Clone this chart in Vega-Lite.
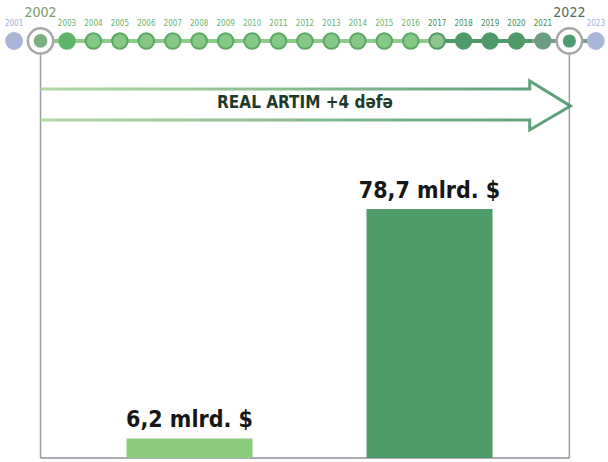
{
  "$schema": "https://vega.github.io/schema/vega-lite/v6.json",
  "width": 608,
  "height": 462,
  "autosize": {"type": "fit", "contains": "padding"},
  "padding": 0,
  "background": "#ffffff",
  "config": {"view": {"stroke": null}},
  "datasets": {
    "years": [
      {"year": 2001, "label": "2001", "group": "edge"},
      {"year": 2002, "label": "2002", "group": "keyA"},
      {"year": 2003, "label": "2003", "group": "start"},
      {"year": 2004, "label": "2004", "group": "mid"},
      {"year": 2005, "label": "2005", "group": "mid"},
      {"year": 2006, "label": "2006", "group": "mid"},
      {"year": 2007, "label": "2007", "group": "mid"},
      {"year": 2008, "label": "2008", "group": "mid"},
      {"year": 2009, "label": "2009", "group": "mid"},
      {"year": 2010, "label": "2010", "group": "mid"},
      {"year": 2011, "label": "2011", "group": "mid"},
      {"year": 2012, "label": "2012", "group": "mid"},
      {"year": 2013, "label": "2013", "group": "mid"},
      {"year": 2014, "label": "2014", "group": "mid"},
      {"year": 2015, "label": "2015", "group": "mid"},
      {"year": 2016, "label": "2016", "group": "mid"},
      {"year": 2017, "label": "2017", "group": "turn"},
      {"year": 2018, "label": "2018", "group": "recent"},
      {"year": 2019, "label": "2019", "group": "recent"},
      {"year": 2020, "label": "2020", "group": "recent"},
      {"year": 2021, "label": "2021", "group": "fade"},
      {"year": 2022, "label": "2022", "group": "keyB"},
      {"year": 2023, "label": "2023", "group": "edge"}
    ],
    "segments": [
      {"from": 2002, "to": 2017, "kind": "early"},
      {"from": 2017, "to": 2020.6, "kind": "late"},
      {"from": 2020.6, "to": 2023.2, "kind": "tail"}
    ],
    "arrow": [
      {"order": 1, "year": 2002.0, "level": 116.62},
      {"order": 2, "year": 2020.5, "level": 116.62},
      {"order": 3, "year": 2020.5, "level": 119.15},
      {"order": 4, "year": 2022.04, "level": 111.25},
      {"order": 5, "year": 2020.5, "level": 103.67},
      {"order": 6, "year": 2020.5, "level": 106.83},
      {"order": 7, "year": 2002.0, "level": 106.83}
    ],
    "bars": [
      {"period": "2002", "value": 6.2, "label": "6,2 mlrd. $"},
      {"period": "2022", "value": 78.7, "label": "78,7 mlrd. $"}
    ]
  },
  "resolve": {"scale": {"x": "independent", "color": "independent", "fill": "independent", "stroke": "independent", "size": "independent"}},
  "layer": [
    {
      "resolve": {"scale": {"color": "independent", "fill": "independent", "stroke": "independent", "size": "independent"}},
      "layer": [
        {
          "data": {"name": "years"},
          "transform": [{"filter": "datum.group === 'keyA' || datum.group === 'keyB'"}],
          "mark": {"type": "rule", "color": "#9c9cab", "strokeWidth": 1.5},
          "encoding": {
            "x": {"field": "year", "type": "quantitative", "scale": {"domain": [2000.467, 2023.196], "nice": false, "zero": false}, "axis": null},
            "y": {"datum": 128, "type": "quantitative", "scale": {"domain": [-1.264, 144.75], "nice": false, "zero": false}, "axis": null},
            "y2": {"datum": 0}
          }
        },
        {
          "data": {"values": [{"from": 2002, "to": 2022}]},
          "mark": {"type": "rule", "color": "#8f8f9c", "strokeWidth": 1.5},
          "encoding": {
            "x": {"field": "from", "type": "quantitative", "scale": {"domain": [2000.467, 2023.196], "nice": false, "zero": false}, "axis": null},
            "x2": {"field": "to"},
            "y": {"datum": 0, "type": "quantitative", "scale": {"domain": [-1.264, 144.75], "nice": false, "zero": false}, "axis": null}
          }
        },
        {
          "data": {"name": "segments"},
          "mark": {"type": "rule"},
          "encoding": {
            "x": {"field": "from", "type": "quantitative", "scale": {"domain": [2000.467, 2023.196], "nice": false, "zero": false}, "axis": null},
            "x2": {"field": "to"},
            "y": {"datum": 131.8, "type": "quantitative", "scale": {"domain": [-1.264, 144.75], "nice": false, "zero": false}, "axis": null},
            "color": {"field": "kind", "type": "nominal", "scale": {"domain": ["early", "late", "tail"], "range": ["#8ccb8a", "#4e9a68", "#7a9a8c"]}, "legend": null},
            "size": {"field": "kind", "type": "nominal", "scale": {"domain": ["early", "late", "tail"], "range": [4, 4, 7]}, "legend": null}
          }
        },
        {
          "data": {"name": "years"},
          "transform": [{"filter": "datum.group === 'keyA' || datum.group === 'keyB'"}],
          "mark": {"type": "circle", "fill": "#ffffff", "stroke": "#a8a8a8", "strokeWidth": 2.5, "opacity": 1},
          "encoding": {
            "x": {"field": "year", "type": "quantitative", "scale": {"domain": [2000.467, 2023.196], "nice": false, "zero": false}, "axis": null},
            "y": {"datum": 131.8, "type": "quantitative", "scale": {"domain": [-1.264, 144.75], "nice": false, "zero": false}, "axis": null},
            "size": {"value": 640}
          }
        },
        {
          "data": {"name": "years"},
          "mark": {"type": "circle", "strokeWidth": 2, "opacity": 1},
          "encoding": {
            "x": {"field": "year", "type": "quantitative", "scale": {"domain": [2000.467, 2023.196], "nice": false, "zero": false}, "axis": null},
            "y": {"datum": 131.8, "type": "quantitative", "scale": {"domain": [-1.264, 144.75], "nice": false, "zero": false}, "axis": null},
            "fill": {"field": "group", "type": "nominal", "scale": {"domain": ["edge", "keyA", "start", "mid", "turn", "recent", "fade", "keyB"], "range": ["#a9b6d8", "#7cae7e", "#5db56a", "#86c886", "#8fc68f", "#4e9a68", "#6a9c82", "#4f9a70"]}, "legend": null},
            "stroke": {"field": "group", "type": "nominal", "scale": {"domain": ["edge", "keyA", "start", "mid", "turn", "recent", "fade", "keyB"], "range": ["#a9b6d8", "#ffffff", "#5db56a", "#5aa864", "#4e9a68", "#4e9a68", "#6a9c82", "#ffffff"]}, "legend": null},
            "size": {"field": "group", "type": "nominal", "scale": {"domain": ["edge", "keyA", "start", "mid", "turn", "recent", "fade", "keyB"], "range": [250, 230, 230, 250, 260, 290, 280, 230]}, "legend": null}
          }
        },
        {
          "data": {"name": "years"},
          "transform": [{"filter": "datum.group !== 'keyA' && datum.group !== 'keyB'"}],
          "mark": {"type": "text", "font": "DejaVu Sans Condensed, Liberation Sans, sans-serif", "fontSize": 8, "baseline": "middle", "align": "center"},
          "encoding": {
            "x": {"field": "year", "type": "quantitative", "scale": {"domain": [2000.467, 2023.196], "nice": false, "zero": false}, "axis": null},
            "y": {"datum": 137.2, "type": "quantitative", "scale": {"domain": [-1.264, 144.75], "nice": false, "zero": false}, "axis": null},
            "text": {"field": "label"},
            "color": {"field": "group", "type": "nominal", "scale": {"domain": ["edge", "start", "mid", "turn", "recent", "fade"], "range": ["#9db0da", "#5fb56b", "#5fb56b", "#3f8c5c", "#3f8c5c", "#3f8c5c"]}, "legend": null}
          }
        },
        {
          "data": {"name": "years"},
          "transform": [{"filter": "datum.group === 'keyA' || datum.group === 'keyB'"}],
          "mark": {"type": "text", "font": "DejaVu Sans Condensed, Liberation Sans, sans-serif", "fontSize": 14, "baseline": "middle", "align": "center"},
          "encoding": {
            "x": {"field": "year", "type": "quantitative", "scale": {"domain": [2000.467, 2023.196], "nice": false, "zero": false}, "axis": null},
            "y": {"datum": 140.6, "type": "quantitative", "scale": {"domain": [-1.264, 144.75], "nice": false, "zero": false}, "axis": null},
            "text": {"field": "label"},
            "color": {"field": "group", "type": "nominal", "scale": {"domain": ["keyA", "keyB"], "range": ["#78996f", "#4d6b5a"]}, "legend": null}
          }
        },
        {
          "data": {"name": "arrow"},
          "mark": {"type": "line", "strokeWidth": 3, "strokeJoin": "miter", "color": {"gradient": "linear", "x1": 0, "x2": 1, "y1": 0, "y2": 0, "stops": [{"offset": 0, "color": "#b2daa2"}, {"offset": 1, "color": "#5a9c78"}]}},
          "encoding": {
            "x": {"field": "year", "type": "quantitative", "scale": {"domain": [2000.467, 2023.196], "nice": false, "zero": false}, "axis": null},
            "y": {"field": "level", "type": "quantitative", "scale": {"domain": [-1.264, 144.75], "nice": false, "zero": false}, "axis": null},
            "order": {"field": "order"}
          }
        },
        {
          "data": {"values": [{"year": 2012, "text": "REAL ARTIM +4 dəfə"}]},
          "mark": {"type": "text", "font": "DejaVu Sans Condensed, Liberation Sans, sans-serif", "fontWeight": "bold", "fontSize": 17, "baseline": "middle", "align": "center", "color": "#1e3b2a"},
          "encoding": {
            "x": {"field": "year", "type": "quantitative", "scale": {"domain": [2000.467, 2023.196], "nice": false, "zero": false}, "axis": null},
            "y": {"datum": 112.2, "type": "quantitative", "scale": {"domain": [-1.264, 144.75], "nice": false, "zero": false}, "axis": null},
            "text": {"field": "text"}
          }
        }
      ]
    },
    {
      "data": {"name": "bars"},
      "layer": [
        {
          "mark": {"type": "bar"},
          "encoding": {
            "x": {"field": "period", "type": "nominal", "scale": {"domain": ["2002", "2022"], "range": [42, 577], "paddingInner": 0.475, "paddingOuter": 0.352}, "axis": null},
            "y": {"field": "value", "type": "quantitative", "scale": {"domain": [-1.264, 144.75], "nice": false, "zero": false}, "axis": null},
            "y2": {"datum": 0},
            "color": {"field": "period", "type": "nominal", "scale": {"domain": ["2002", "2022"], "range": ["#8dcb7e", "#4f9c6b"]}, "legend": null}
          }
        },
        {
          "mark": {"type": "text", "font": "DejaVu Sans Condensed, Liberation Sans, sans-serif", "fontWeight": "bold", "fontSize": 23, "baseline": "alphabetic", "align": "center", "dy": -11, "color": "#161616"},
          "encoding": {
            "x": {"field": "period", "type": "nominal", "scale": {"domain": ["2002", "2022"], "range": [42, 577], "paddingInner": 0.475, "paddingOuter": 0.352}, "axis": null},
            "y": {"field": "value", "type": "quantitative", "scale": {"domain": [-1.264, 144.75], "nice": false, "zero": false}, "axis": null},
            "text": {"field": "label"}
          }
        }
      ]
    }
  ]
}
